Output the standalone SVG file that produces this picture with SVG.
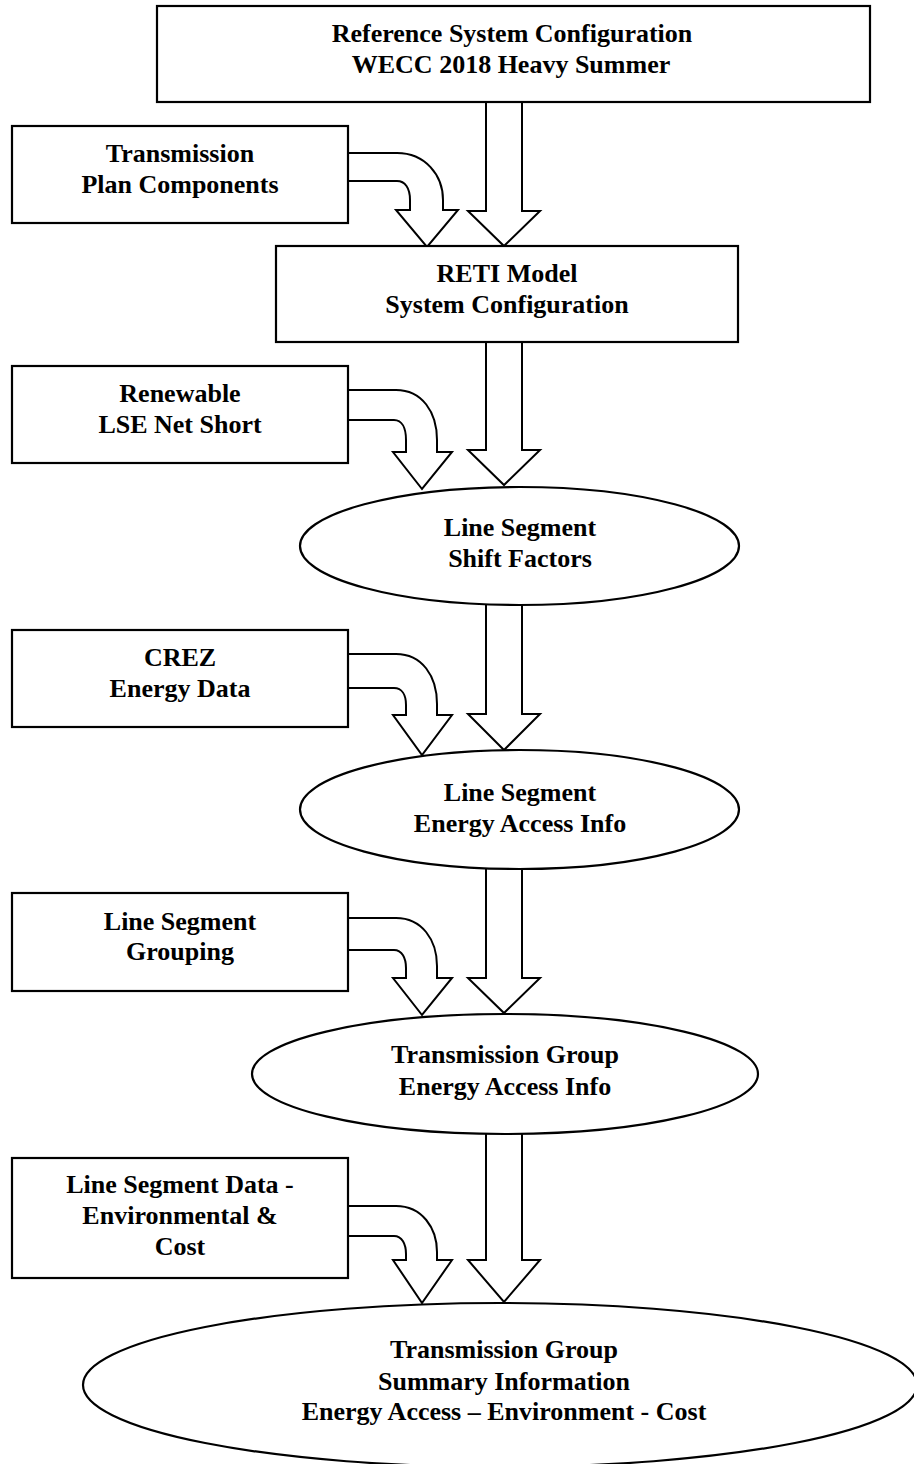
<svg xmlns="http://www.w3.org/2000/svg" width="914" height="1464" viewBox="0 0 914 1464">
<style>
.n{fill:#fff;stroke:#000;stroke-width:2.2}
.a{fill:#fff;stroke:#000;stroke-width:2;stroke-linejoin:miter}
text{font-family:"Liberation Serif","Times New Roman",serif;font-weight:bold;font-size:26px;text-anchor:middle;fill:#000}
</style>
<rect width="914" height="1464" fill="#fff"/>
<g id="connectors">
<path class="a" d="M486,102 V211 H468 L504,246 L540,211 H522 V102"/>
<path class="a" d="M348,153 H397 C425,153 443,175 443,200 V210 H458 L427,247 L396,210 H410 V200 C410,188 405,181 397,181 H348"/>
<path class="a" d="M486,342 V450 H468 L504,485 L540,450 H522 V342"/>
<path class="a" d="M348,390 H396 C422,390 437,412 437,440 V452 H452 L422,489 L393,452 H406 V440 C406,428 402,420 394,420 H348"/>
<path class="a" d="M486,605 V714 H468 L504,750 L540,714 H522 V605"/>
<path class="a" d="M348,654 H396 C422,654 437,676 437,704 V715 H452 L422,755 L393,715 H406 V705 C406,695 402,688 394,688 H348"/>
<path class="a" d="M486,869 V978 H468 L504,1013 L540,978 H522 V869"/>
<path class="a" d="M348,918 H396 C422,918 437,940 437,966 V978 H452 L422,1015 L393,978 H406 V968 C406,958 402,950 394,950 H348"/>
<path class="a" d="M486,1134 V1260 H468 L504,1302 L540,1260 H522 V1134"/>
<path class="a" d="M348,1206 H396 C422,1206 437,1228 437,1252 V1260 H452 L422,1303 L393,1260 H406 V1254 C406,1244 402,1236 394,1236 H348"/>
</g>
<g id="ref-system">
<rect class="n" x="157" y="6" width="713" height="96"/>
<text x="512" y="42">Reference System Configuration</text>
<text x="511" y="73">WECC 2018 Heavy Summer</text>
</g>
<g id="transmission-plan">
<rect class="n" x="12" y="126" width="336" height="97"/>
<text x="180" y="162">Transmission</text>
<text x="180" y="193">Plan Components</text>
</g>
<g id="reti-model">
<rect class="n" x="276" y="246" width="462" height="96"/>
<text x="507" y="282">RETI Model</text>
<text x="507" y="313">System Configuration</text>
</g>
<g id="renewable">
<rect class="n" x="12" y="366" width="336" height="97"/>
<text x="180" y="402">Renewable</text>
<text x="180" y="433">LSE Net Short</text>
</g>
<g id="shift-factors">
<ellipse class="n" cx="519.5" cy="546" rx="219.5" ry="59"/>
<text x="520" y="536">Line Segment</text>
<text x="520" y="567">Shift Factors</text>
</g>
<g id="crez">
<rect class="n" x="12" y="630" width="336" height="97"/>
<text x="180" y="666">CREZ</text>
<text x="180" y="697">Energy Data</text>
</g>
<g id="segment-energy">
<ellipse class="n" cx="519.5" cy="809.5" rx="219.5" ry="59.5"/>
<text x="520" y="801">Line Segment</text>
<text x="520" y="832">Energy Access Info</text>
</g>
<g id="grouping">
<rect class="n" x="12" y="893" width="336" height="98"/>
<text x="180" y="930">Line Segment</text>
<text x="180" y="960">Grouping</text>
</g>
<g id="group-energy">
<ellipse class="n" cx="505" cy="1074" rx="253" ry="60"/>
<text x="505" y="1063">Transmission Group</text>
<text x="505" y="1095">Energy Access Info</text>
</g>
<g id="segment-data">
<rect class="n" x="12" y="1158" width="336" height="120"/>
<text x="180" y="1193">Line Segment Data -</text>
<text x="180" y="1224">Environmental &amp;</text>
<text x="180" y="1255">Cost</text>
</g>
<g id="group-summary">
<ellipse class="n" cx="500" cy="1385" rx="417" ry="82"/>
<text x="504" y="1358">Transmission Group</text>
<text x="504" y="1390">Summary Information</text>
<text x="504" y="1420">Energy Access – Environment - Cost</text>
</g>
</svg>
